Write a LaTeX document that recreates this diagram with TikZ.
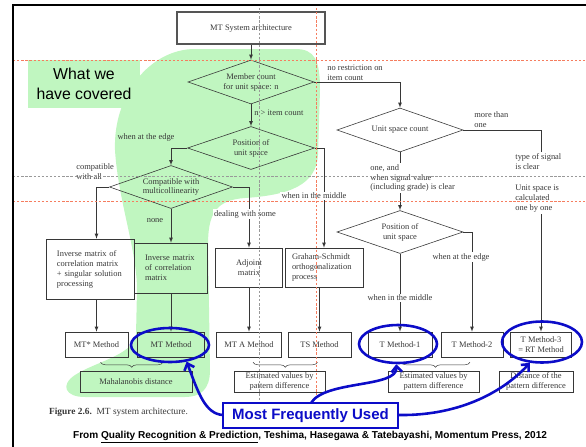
\documentclass[tikz,border=0pt]{standalone}
\usepackage{fontspec}
\setmainfont{Liberation Serif}
\newfontfamily\arialfont{Liberation Sans}
\usetikzlibrary{shapes.geometric, arrows.meta, decorations.pathreplacing, calc}
\definecolor{hilite}{RGB}{192,246,192}
\definecolor{callblue}{RGB}{12,12,200}
\definecolor{guidered}{RGB}{245,125,95}
\definecolor{ink}{RGB}{55,55,55}

\begin{document}
\begin{tikzpicture}[x=0.03cm, y=-0.03cm, >=latex,
  txt/.style={font=\fontsize{7.2}{8.5}\selectfont, text=ink},
  box/.style={txt, rectangle, draw=ink, line width=0.5pt, inner sep=1pt},
  decision/.style={txt, diamond, draw=ink, line width=0.5pt, shape aspect=2.9, inner sep=0pt,
    minimum width=3.78cm, minimum height=1.32cm, align=center},
  method/.style={box, minimum height=0.75cm, align=center},
  result/.style={box, minimum height=0.63cm, align=center},
  lbl/.style={txt, inner sep=1pt},
  gaplbl/.style={lbl, fill=white},
  flow/.style={draw=ink, line width=0.5pt},
  guide/.style={dash pattern=on 2pt off 1.5pt, line width=0.4pt},
  callout/.style={draw=callblue, line width=2.2pt},
  callarrow/.style={callout, -{Straight Barb[length=5pt, width=9pt]}},
  ring/.style={ellipse, callout, inner sep=0pt}
]
\useasboundingbox (0,0) rectangle (586,447);

% covered area
\fill[hilite] (115,150) .. controls (113,95) and (150,49) .. (195,49) -- (295,49)
  .. controls (315,49) and (320,60) .. (320,90) -- (318,155)
  .. controls (316,185) and (290,195) .. (245,198)
  .. controls (215,200) and (208,215) .. (208,245) -- (210,370)
  .. controls (210,390) and (200,397) .. (185,397) -- (85,397)
  .. controls (65,397) and (60,385) .. (75,375)
  .. controls (95,362) and (133,355) .. (136,335) -- (137,290)
  .. controls (137,250) and (118,200) .. (115,150) -- cycle;
\node[fill=hilite, minimum width=3.36cm, minimum height=1.41cm, align=center,
  font=\arialfont\fontsize{13.5}{17}\selectfont] (covered) at (84,84) {What we\\have covered};

% decisions
\node[box, draw=ink!85, line width=2pt, minimum width=4.44cm, minimum height=0.96cm] (sys) at (251,28) {MT System architecture};
\draw[white, line width=0.6pt] (sys.north west) rectangle (sys.south east);
\node[decision] (member) at (251,82) {Member count\\for unit space: n};
\node[decision, minimum width=3.81cm, minimum height=1.29cm] (posleft) at (251,148) {Position of\\unit space};
\node[decision, minimum width=3.69cm, minimum height=1.29cm] (compat) at (171,187) {Compatible with\\multicollinearity};
\node[decision] (unitcount) at (400,130) {Unit space count};
\node[decision, minimum height=1.29cm] (posright) at (400,232) {Position of\\unit space};

% processing
\node[box, minimum width=2.64cm, minimum height=1.8cm, text width=1.98cm, align=left] (invsing) at (90,269) {Inverse matrix of\\correlation matrix\\+ singular solution\\processing};
\node[box, minimum width=2.19cm, minimum height=1.5cm, text width=1.56cm, align=left] (invcorr) at (171,268) {Inverse matrix\\of correlation\\matrix};
\node[box, minimum width=2.01cm, minimum height=1.17cm, align=center] (adjoint) at (249,267.5) {Adjoint\\matrix};
\node[box, minimum width=2.34cm, minimum height=1.17cm, text width=1.92cm, align=left] (gramschmidt) at (324,267.5) {Graham-Schmidt\\orthogonalization\\process};

% methods
\node[method, minimum width=1.89cm] (mtstar) at (96.5,344.5) {MT* Method};
\node[method, minimum width=2.01cm] (mt) at (171,344.5) {MT Method};
\node[method, minimum width=1.95cm] (mta) at (249,344.5) {MT A Method};
\node[method, minimum width=1.89cm] (ts) at (319.5,344.5) {TS Method};
\node[method, minimum width=1.92cm] (tone) at (400,344.5) {T Method-1};
\node[method, minimum width=1.86cm] (ttwo) at (472,344.5) {T Method-2};
\node[method, minimum width=1.83cm] (tthree) at (541,344.5) {T Method-3\\= RT Method};

% results
\node[result, minimum width=3.36cm] (mahal) at (136,381.5) {Mahalanobis distance};
\node[result, minimum width=2.73cm] (estone) at (279.5,381.5) {Estimated values by\\pattern difference};
\node[result, minimum width=2.73cm] (esttwo) at (433.5,381.5) {Estimated values by\\pattern difference};
\node[result, minimum width=2.22cm] (patdist) at (536,381.5) {Distance of the\\pattern difference};

% connectors
\draw[flow,->] (sys) -- (member);
\draw[flow,->] (member) -- (posleft);
\draw[flow,->] (member.east) -| (unitcount.north);
\draw[flow,->] (posleft.west) -| (compat.north);
\draw[flow,->] (posleft.east) -| (gramschmidt.north);
\draw[flow,->] (compat.west) -| (invsing.north -| mtstar.north);
\draw[flow,->] (compat) -- (invcorr);
\draw[flow,->] (compat.east) -| (adjoint.north);
\draw[flow,->] (invsing.south -| mtstar.north) -- (mtstar);
\draw[flow,->] (invcorr) -- (mt);
\draw[flow,->] (adjoint) -- (mta);
\draw[flow,->] (gramschmidt.south -| ts.north) -- (ts);
\draw[flow,->] (unitcount) -- (posright);
\draw[flow,->] (unitcount.east) -| (tthree.north);
\draw[flow,->] (posright.east) -| (ttwo.north);
\draw[flow,->] (posright) -- (tone);

% branch labels
\node[lbl, anchor=west] (lblitems) at (253,113) {n > item count};
\node[lbl, anchor=south west, align=left] (lblnorestr) at (326,82) {no restriction on\\item count};
\node[lbl] (lbledgeleft) at (146,137) {when at the edge};
\node[gaplbl] (lblmidleft) at (314,196) {when in the middle};
\node[lbl, anchor=west, align=left] (lblall) at (75,172) {compatible\\with all};
\node[lbl] (lblnone) at (155,221) {none};
\node[gaplbl] (lbldeal) at (245,214) {dealing with some};
\node[lbl, anchor=south west, align=left] (lblmore) at (473,129) {more than\\one};
\node[gaplbl, anchor=west, align=left] (lblsignal) at (369,178) {one, and\\when signal value\\(including grade) is clear};
\node[gaplbl, anchor=north west, align=left] (lblunit) at (514,152) {type of signal\\is clear\\[10pt]Unit space is\\calculated\\one by one};
\node[gaplbl] (lbledgeright) at (461,257) {when at the edge};
\node[gaplbl] (lblmidright) at (400,298) {when in the middle};

% braces
\draw[ink, line width=0.4pt, decorate, decoration={brace, mirror, amplitude=0.15cm}]
  ($(mtstar.south)+(4,5)$) -- ($(mt.south)+(-8,5)$);
\draw[ink, line width=0.4pt, decorate, decoration={brace, mirror, amplitude=0.15cm}]
  ($(mta.south)+(4,5)$) -- ($(ts.south)+(-2,5)$);
\draw[ink, line width=0.4pt, decorate, decoration={brace, mirror, amplitude=0.15cm}]
  ($(tone.south)+(1,5)$) -- ($(ttwo.south)+(-2,5)$);

% guides
\draw[guide, guidered] (13,60) -- (586,60);
\draw[guide, guidered] (13,201) -- (586,201);
\draw[guide, gray!80] (13,176) -- (586,176);
\draw[guide, guidered] (316,8) -- (316,395);
\draw[guide, gray!80] (259,8) -- (259,400);

% frame
\draw[line width=1.3pt] (586,5) -- (13,5) -- (13,447);

\node[anchor=west, font=\fontsize{8}{9.5}\selectfont, text=ink] (caption) at (45,412) {\textbf{Figure 2.6.}\ \ MT system architecture.};
\node[anchor=west, font=\arialfont\bfseries\fontsize{8.6}{10}\selectfont] (source) at (69,437) {From \underline{Quality Recognition \& Prediction}, Teshima, Hasegawa \& Tatebayashi, Momentum Press, 2012};

% most frequently used
\node[ring, minimum width=2.34cm, minimum height=1.02cm] (ringmt) at (170,345) {};
\node[ring, minimum width=2.34cm, minimum height=1.14cm] (ringtone) at (398,344) {};
\node[ring, minimum width=2.4cm, minimum height=1.23cm] (ringtthree) at (542,342) {};
\draw[callarrow] (223,415) .. controls (205,414) and (198,392) .. (ringmt.-45);
\draw[callarrow] (311,403) .. controls (325,380) and (398,388) .. (ringtone.-95);
\draw[callarrow] (398,415) .. controls (455,416) and (500,395) .. (ringtthree.-120);
\node[callout, fill=white, minimum width=5.25cm, minimum height=0.75cm, text=callblue,
  font=\arialfont\bfseries\fontsize{12.8}{14}\selectfont] (frequent) at (310.5,415.5) {Most Frequently Used};
\end{tikzpicture}
\end{document}
